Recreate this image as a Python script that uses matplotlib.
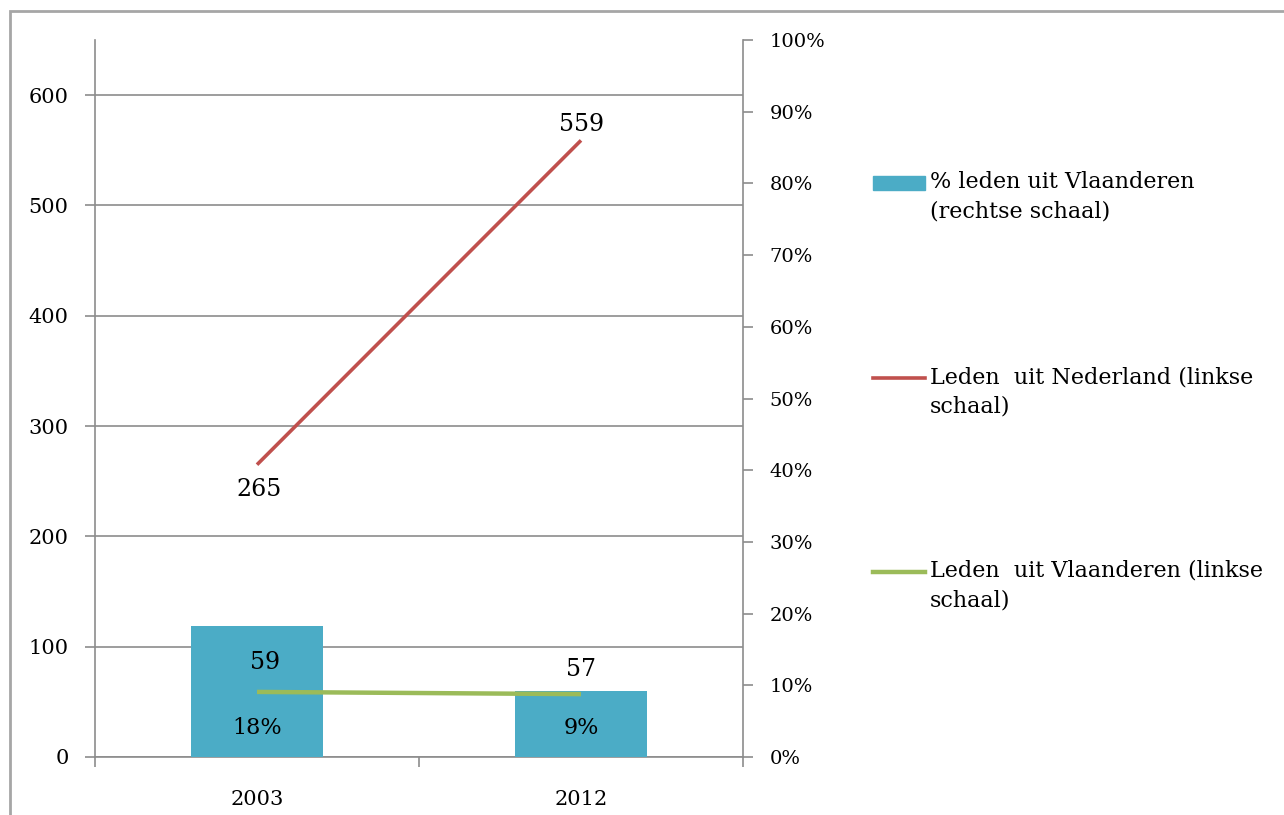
import matplotlib.pyplot as plt
from matplotlib.patches import Rectangle
from matplotlib.lines import Line2D
from matplotlib.ticker import FuncFormatter

years = ['2003', '2012']
nl_leden = [265, 559]
vl_leden = [59, 57]
vl_pct = [59 / (59 + 265), 57 / (57 + 559)]
left_ticks = [0, 100, 200, 300, 400, 500, 600]
right_ticks = [0, .1, .2, .3, .4, .5, .6, .7, .8, .9, 1.0]
labels = ['% leden uit Vlaanderen\n(rechtse schaal)',
          'Leden  uit Nederland (linkse\nschaal)',
          'Leden  uit Vlaanderen (linkse\nschaal)']

blue = '#4BACC6'
red = '#C0504D'
green = '#9BBB59'
gray = '#8C8C8C'

plt.rcParams['font.family'] = 'DejaVu Serif'

W, H = 1284, 815
fig = plt.figure(figsize=(W / 100, H / 100), dpi=100)
ax = fig.add_axes([95 / W, 58 / H, (743 - 95) / W, (757 - 40) / H])
axb = ax.twinx()
axl = ax.twinx()

x = list(range(len(years)))

# left scale with grid
ax.set_ylim(0, 650)
ax.set_yticks(left_ticks)
ax.grid(axis='y', color=gray, lw=1.2)
ax.tick_params(axis='y', length=7, color=gray, width=1.2, labelsize=15, pad=12)
ax.set_xlim(-0.5, 1.5)
ax.set_xticks([-0.5, 0.5, 1.5])
ax.set_xticklabels([])
ax.set_xticks(x, minor=True)
ax.set_xticklabels(years, minor=True)
ax.tick_params(axis='x', which='major', length=7, color=gray, width=1.2, direction='out')
ax.tick_params(axis='x', which='minor', length=0, labelsize=15, pad=24)
for s in ['top', 'right']:
    ax.spines[s].set_visible(False)
ax.spines['left'].set_color(gray)
ax.spines['bottom'].set_color(gray)
ax.spines['left'].set_linewidth(1.2)
ax.spines['bottom'].set_linewidth(1.2)

# bars on right scale
bars = axb.bar(x, vl_pct, width=0.41, color=blue, zorder=2)
axb.set_ylim(0, 1)
axb.set_yticks(right_ticks)
axb.yaxis.set_major_formatter(FuncFormatter(lambda v, p: f'{v:.0%}'))
axb.tick_params(axis='y', length=7, color=gray, width=1.2, labelsize=14, pad=12)
for s in ['top', 'left', 'bottom']:
    axb.spines[s].set_visible(False)
axb.spines['right'].set_color(gray)
axb.spines['right'].set_linewidth(1.2)
for xi, p in zip(x, vl_pct):
    axb.annotate(f'{p:.0%}', (xi, 0), xytext=(0, 29), textcoords='offset pixels',
                 ha='center', va='center', fontsize=16)

# lines on left scale
axl.set_ylim(ax.get_ylim())
axl.axis('off')
ln_nl, = axl.plot(x, nl_leden, color=red, lw=2.6, solid_capstyle='butt')
ln_vl, = axl.plot(x, vl_leden, color=green, lw=3.2, solid_capstyle='butt')
axl.annotate(str(nl_leden[0]), (x[0], nl_leden[0]), xytext=(2, -25), textcoords='offset pixels',
             ha='center', va='center', fontsize=17)
axl.annotate(str(nl_leden[1]), (x[1], nl_leden[1]), xytext=(1, 16), textcoords='offset pixels',
             ha='center', va='center', fontsize=17)
axl.annotate(str(vl_leden[0]), (x[0], vl_leden[0]), xytext=(8, 29), textcoords='offset pixels',
             ha='center', va='center', fontsize=17)
axl.annotate(str(vl_leden[1]), (x[1], vl_leden[1]), xytext=(0, 25), textcoords='offset pixels',
             ha='center', va='center', fontsize=17)

# legend drawn by hand
leg_y = [183, 378, 572]
fig.add_artist(Rectangle((873 / W, 1 - 190 / H), 52 / W, 14 / H, transform=fig.transFigure,
                         color=blue))
fig.add_artist(Line2D([873 / W, 925 / W], [1 - leg_y[1] / H] * 2, transform=fig.transFigure,
                      color=red, lw=2.6))
fig.add_artist(Line2D([873 / W, 925 / W], [1 - leg_y[2] / H] * 2, transform=fig.transFigure,
                      color=green, lw=3.2))
for yy, lab in zip(leg_y, labels):
    fig.text(930 / W, 1 - (yy - 12) / H, lab, ha='left', va='top', fontsize=16,
             linespacing=1.45)

# outer frame
fig.add_artist(Rectangle((10 / W, -0.05), 1.1, 1 - 11 / H + 0.05, transform=fig.transFigure,
                         fill=False, edgecolor='#A6A6A6', lw=2))

fig.savefig('out.png', dpi=100)
